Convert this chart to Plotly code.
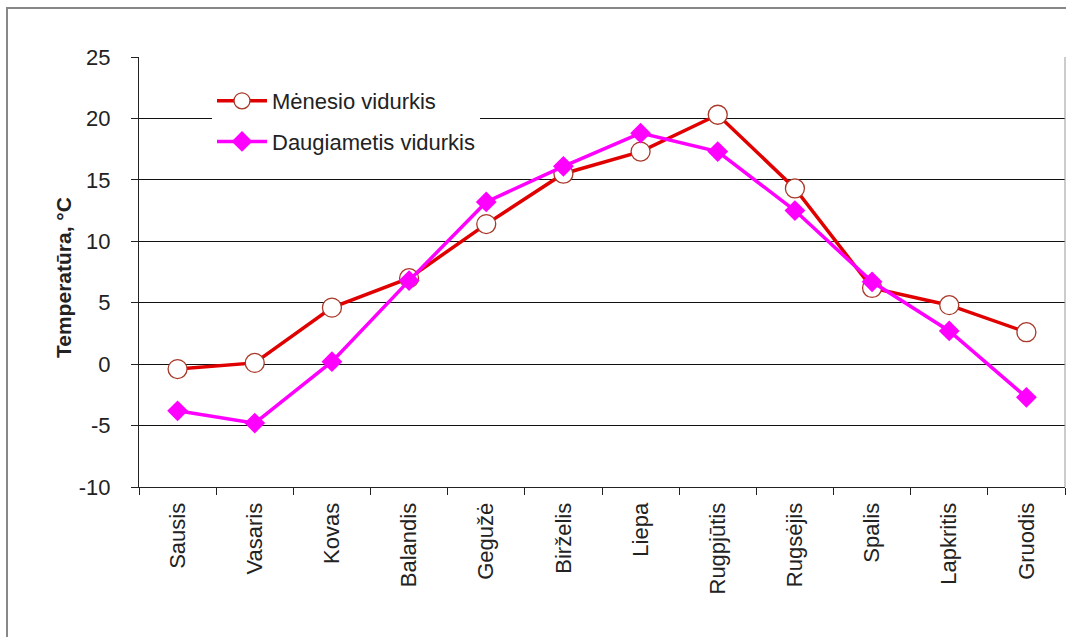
import plotly.graph_objects as go

months = ["Sausis", "Vasaris", "Kovas", "Balandis", "Gegužė", "Birželis",
          "Liepa", "Rugpjūtis", "Rugsėjis", "Spalis", "Lapkritis", "Gruodis"]
menesio = [-0.4, 0.1, 4.6, 7.0, 11.4, 15.5, 17.3, 20.3, 14.3, 6.2, 4.8, 2.6]
daugiametis = [-3.8, -4.8, 0.2, 6.8, 13.2, 16.1, 18.8, 17.3, 12.5, 6.7, 2.7, -2.7]
y_ticks = [-10, -5, 0, 5, 10, 15, 20, 25]
y_ticktext = [str(v) for v in y_ticks]

FONT = "Liberation Sans, Arial, sans-serif"

fig = go.Figure()
fig.add_trace(go.Scatter(
    x=months, y=menesio, name="Mėnesio vidurkis", mode="lines+markers",
    legendgroup="a",
    line=dict(color="#e00000", width=3.5),
    marker=dict(symbol="circle", size=19, color="white",
                line=dict(color="#a83828", width=1.3)),
))
fig.add_trace(go.Scatter(
    x=months, y=daugiametis, name="Daugiametis vidurkis", mode="lines+markers",
    legendgroup="b",
    line=dict(color="#ff00ff", width=3.5),
    marker=dict(symbol="diamond", size=16, color="#ff00ff"),
))

W, H = 1066, 637
L, R, T, B = 139, 1, 57, 150
pw, ph = W - L - R, H - T - B

def px(x):
    return (x - L) / pw

def py(y):
    return (H - B - y) / ph

fig.update_layout(
    width=W, height=H,
    margin=dict(l=L, r=R, t=T, b=B),
    paper_bgcolor="white", plot_bgcolor="white",
    font=dict(family=FONT, size=21, color="#222"),
    showlegend=True,
    legend=dict(x=px(212), y=py(80), xanchor="left", yanchor="top",
                bgcolor="white", font=dict(size=22, color="#222"),
                itemwidth=50, tracegroupgap=9),
    xaxis=dict(
        type="category", range=[-0.5, 11.5],
        tickangle=-90, tickson="boundaries", ticks="outside", ticklen=7,
        tickcolor="#222", showline=True, linecolor="#222", linewidth=1,
        showgrid=False, tickfont=dict(size=22), fixedrange=True,
        ticklabelstandoff=6,
    ),
    yaxis=dict(
        range=[-10, 25], tickvals=y_ticks, ticktext=y_ticktext,
        ticks="outside", ticklen=7,
        tickcolor="#222", showline=True, linecolor="#222", linewidth=1,
        showgrid=True, gridcolor="#111", gridwidth=1, zeroline=False,
        tickfont=dict(size=22), ticklabelstandoff=16,
    ),
    annotations=[
        dict(text="<b>Temperatūra, °C</b>", xref="paper", yref="paper",
             x=px(63), y=py(278), xanchor="center", yanchor="middle",
             textangle=-90, showarrow=False,
             font=dict(family=FONT, size=21, color="#222")),
    ],
    shapes=[
        dict(type="rect", xref="paper", yref="paper",
             x0=px(7), y0=-0.5, x1=1.2, y1=py(8),
             line=dict(color="#888", width=2), layer="below"),
        dict(type="line", xref="paper", yref="paper",
             x0=1, x1=1, y0=0, y1=1, line=dict(color="#999", width=1)),
    ],
)

fig.write_html("out.html")
